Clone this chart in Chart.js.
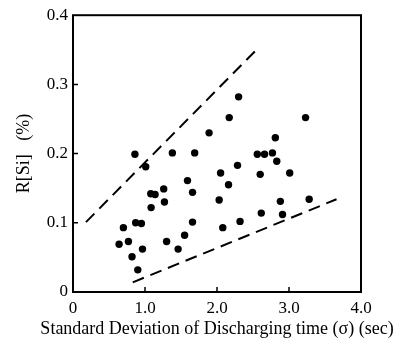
<!DOCTYPE html>
<html>
<head>
<meta charset="utf-8">
<script src="https://cdn.jsdelivr.net/npm/chart.js@4/dist/chart.umd.min.js"></script>
<style>
  html, body { margin: 0; padding: 0; background: #fff; }
  #chart { display: block; }
</style>
</head>
<body>
<canvas id="chart" width="412" height="340"></canvas>
<script>
// measured points: sigma (sec) vs R[Si] (%)
var sigmaX = [0.86, 1.38, 1.69, 1.01, 1.08, 1.14, 1.26, 1.085, 1.27, 1.59, 1.66,
	0.87, 0.95, 0.70, 0.64, 0.77, 0.82, 0.965, 0.90, 1.30, 1.46, 1.55, 1.66,
	2.03, 2.05, 2.16, 2.285, 2.08, 2.32, 2.56, 2.66, 2.77, 2.60, 2.83, 3.01,
	2.615, 2.88, 2.91, 3.28, 2.30, 2.17, 1.89, 3.23, 2.81];
var rSi = [0.199, 0.201, 0.201, 0.181, 0.142, 0.141, 0.149, 0.122, 0.130, 0.161, 0.144,
	0.100, 0.099, 0.093, 0.069, 0.073, 0.051, 0.062, 0.032, 0.073, 0.062, 0.082, 0.101,
	0.133, 0.172, 0.155, 0.183, 0.093, 0.102, 0.199, 0.199, 0.201, 0.170, 0.189, 0.172,
	0.114, 0.131, 0.112, 0.134, 0.282, 0.252, 0.230, 0.252, 0.223];

// dashed envelope lines
var upperX = [0.18, 2.53];
var upperY = [0.101, 0.348];
var lowerX = [0.83, 3.66];
var lowerY = [0.014, 0.134];

var xTicks = [0, 1, 2, 3, 4];
var yTicks = [0, 0.1, 0.2, 0.3, 0.4];
var xTitle = 'Standard Deviation of Discharging time (σ) (sec)';

function toPoints(xs, ys)
{
	var pts = [];
	for(var i = 0; i < xs.length; i ++)
	{
		pts.push({x: xs[i], y: ys[i]});
	}
	return pts;
}

function dashed(xs, ys)
{
	return {
		data: toPoints(xs, ys),
		showLine: true,
		borderColor: '#000',
		borderWidth: 2,
		borderDash: [12, 7],
		pointRadius: 0,
		fill: false
	};
}

var serif = "'Liberation Serif', 'DejaVu Serif', serif";

// frame round the plot, small inward ticks, and the x title
// (drawn here because the scale title gets squeezed to the axis width)
var framePlugin = {
	id: 'frame',
	afterDraw: function(chart) {
		var c = chart.ctx, a = chart.chartArea;
		var xs = chart.scales.x, ys = chart.scales.y;
		c.save();
		c.strokeStyle = '#000';
		c.lineWidth = 2;
		c.strokeRect(a.left, a.top, a.right - a.left, a.bottom - a.top);
		c.lineWidth = 1.5;
		c.beginPath();
		for(var i = 1; i < xTicks.length - 1; i ++)
		{
			var px = xs.getPixelForValue(xTicks[i]);
			c.moveTo(px, a.bottom);
			c.lineTo(px, a.bottom - 5);
		}
		for(var j = 1; j < yTicks.length - 1; j ++)
		{
			var py = ys.getPixelForValue(yTicks[j]);
			c.moveTo(a.left, py);
			c.lineTo(a.left + 5, py);
		}
		c.stroke();

		c.fillStyle = '#000';
		c.font = '18px ' + serif;
		c.textAlign = 'center';
		c.textBaseline = 'middle';
		c.fillText(xTitle, (a.left + a.right) / 2, xs.bottom - 11);
		c.restore();
	}
};

var myChart = new Chart(document.getElementById('chart'), {
	type: 'scatter',
	data: {
		datasets: [
			{
				data: toPoints(sigmaX, rSi),
				backgroundColor: '#000',
				borderColor: '#000',
				pointRadius: 3.7,
				borderWidth: 0
			},
			dashed(upperX, upperY),
			dashed(lowerX, lowerY)
		]
	},
	options: {
		responsive: false,
		animation: false,
		layout: { padding: { top: 15, right: 51, left: 0, bottom: 0 } },
		plugins: { legend: { display: false }, tooltip: { enabled: false } },
		scales: {
			x: {
				type: 'linear',
				min: 0, max: 4,
				afterFit: function(s) { s.height = 48; },
				afterBuildTicks: function(s) { s.ticks = xTicks.map(function(v){ return {value: v}; }); },
				grid: { display: false, drawTicks: false },
				border: { display: false },
				ticks: {
					color: '#000',
					padding: 6,
					maxRotation: 0,
					font: { family: serif, size: 17 },
					callback: function(v) { return v === 0 ? '0' : v.toFixed(1); }
				},
				title: { display: false }
			},
			y: {
				type: 'linear',
				min: 0, max: 0.4,
				afterFit: function(s) { s.width = 73; },
				afterBuildTicks: function(s) { s.ticks = yTicks.map(function(v){ return {value: v}; }); },
				grid: { display: false, drawTicks: false },
				border: { display: false },
				ticks: {
					color: '#000',
					padding: 5,
					font: { family: serif, size: 17 },
					callback: function(v) { return v === 0 ? '0' : v.toFixed(1); }
				},
				title: {
					display: true,
					text: 'R[Si]   (%)',
					color: '#000',
					padding: { top: 13, bottom: 13 },
					font: { family: serif, size: 18 }
				}
			}
		}
	},
	plugins: [framePlugin]
});
</script>
</body>
</html>
